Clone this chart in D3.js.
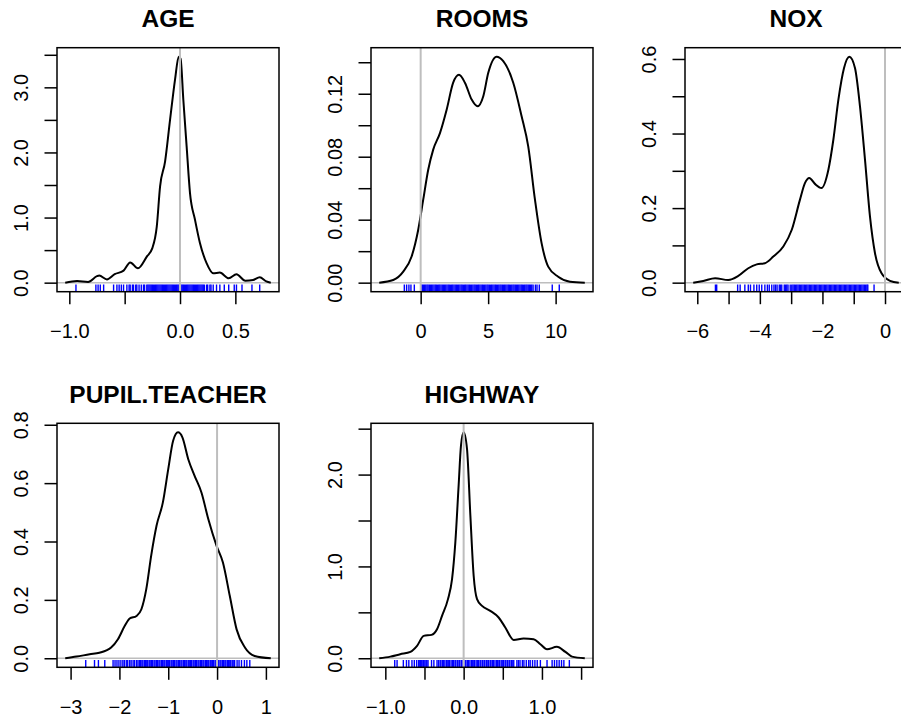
<!DOCTYPE html>
<html>
<head>
<meta charset="utf-8">
<script src="https://cdn.jsdelivr.net/npm/d3@7"></script>
<style>
body { margin: 0; background: white; }
text { font-family: "Liberation Sans", Arial, sans-serif; }
</style>
</head>
<body>
<div class="dens-figure"></div>
<script>
// density curves (x, y)
let ageX = [-1.037, -0.93, -0.83, -0.75, -0.73, -0.66, -0.59, -0.51, -0.45, -0.38, -0.30, -0.25, -0.21, -0.18, -0.135, -0.09, -0.045, -0.012, 0.005, 0.03, 0.06, 0.09, 0.135, 0.18, 0.24, 0.30, 0.36, 0.44, 0.51, 0.59, 0.66, 0.72, 0.78, 0.82];
let ageY = [0, 0.026, 0.012, 0.10, 0.11, 0.05, 0.13, 0.185, 0.31, 0.22, 0.40, 0.53, 0.86, 1.48, 1.86, 2.5, 3.12, 3.47, 3.44, 2.81, 2.09, 1.38, 0.97, 0.61, 0.30, 0.145, 0.155, 0.068, 0.13, 0.03, 0.04, 0.083, 0.02, 0];

let roomsX = [-3.07, -2.03, -1.29, -0.67, -0.18, 0.19, 0.56, 0.93, 1.43, 1.93, 2.41, 2.84, 3.28, 3.78, 4.22, 4.64, 5.01, 5.63, 6.12, 6.86, 7.48, 7.97, 8.47, 8.96, 9.45, 10.19, 11.06, 12.16];
let roomsY = [0, 0.0017, 0.007, 0.0166, 0.0336, 0.0527, 0.0717, 0.0845, 0.095, 0.11, 0.127, 0.132, 0.127, 0.1163, 0.112, 0.1184, 0.1333, 0.1435, 0.1407, 0.127, 0.1057, 0.0866, 0.0527, 0.0251, 0.0102, 0.0038, 0.0006, 0];

let noxX = [-6.13, -5.81, -5.43, -5.01, -4.69, -4.37, -4.10, -3.84, -3.57, -3.25, -2.98, -2.72, -2.56, -2.42, -2.24, -2.03, -1.81, -1.65, -1.49, -1.31, -1.14, -0.96, -0.80, -0.64, -0.48, -0.32, -0.11, 0.16, 0.44];
let noxY = [0, 0.0046, 0.012, 0.007, 0.018, 0.0387, 0.049, 0.052, 0.07, 0.097, 0.142, 0.222, 0.267, 0.281, 0.265, 0.254, 0.303, 0.384, 0.491, 0.576, 0.606, 0.576, 0.473, 0.33, 0.177, 0.079, 0.025, 0.005, 0];

let pupilX = [-3.11, -2.88, -2.61, -2.41, -2.17, -2.03, -1.89, -1.79, -1.65, -1.55, -1.45, -1.35, -1.24, -1.11, -1.00, -0.90, -0.80, -0.71, -0.59, -0.46, -0.32, -0.18, -0.01, 0.12, 0.26, 0.40, 0.57, 0.77, 1.10];
let pupilY = [0, 0.0057, 0.0137, 0.019, 0.0366, 0.065, 0.111, 0.136, 0.145, 0.168, 0.237, 0.351, 0.454, 0.534, 0.648, 0.745, 0.774, 0.757, 0.682, 0.625, 0.568, 0.477, 0.385, 0.328, 0.214, 0.099, 0.037, 0.008, 0];

let highwayX = [-1.078, -0.936, -0.81, -0.68, -0.595, -0.51, -0.41, -0.34, -0.276, -0.2, -0.148, -0.106, -0.064, -0.034, 0.0, 0.043, 0.086, 0.128, 0.171, 0.235, 0.34, 0.447, 0.532, 0.639, 0.766, 0.894, 0.98, 1.065, 1.19, 1.30, 1.384, 1.547];
let highwayY = [0, 0.018, 0.044, 0.069, 0.135, 0.244, 0.255, 0.316, 0.462, 0.644, 0.862, 1.262, 1.88, 2.316, 2.46, 2.28, 1.553, 0.898, 0.644, 0.571, 0.516, 0.444, 0.335, 0.2, 0.215, 0.207, 0.153, 0.098, 0.124, 0.069, 0.018, 0];

// rug values (observations)
let ageRug = [-0.94, -0.76, -0.74, -0.72, -0.69, -0.60, -0.57, -0.55, -0.53, -0.51, -0.48, -0.46, -0.45, -0.43, -0.42, -0.40, -0.39, -0.37, -0.35,
  -0.33, -0.32, -0.30, -0.29, -0.28, -0.27, -0.26, -0.25, -0.24, -0.23, -0.22, -0.21, -0.20, -0.19, -0.18, -0.17, -0.16, -0.15, -0.14, -0.13, -0.12, -0.11, -0.10, -0.09, -0.08, -0.07, -0.06, -0.05, -0.04, -0.03, -0.02, -0.01,
  0.00, 0.01, 0.02, 0.03, 0.04, 0.05, 0.06, 0.07, 0.08, 0.09, 0.10, 0.11, 0.12, 0.13, 0.14, 0.15, 0.16, 0.17, 0.18, 0.19, 0.20, 0.21, 0.22, 0.24, 0.25, 0.27, 0.28,
  0.30, 0.33, 0.36, 0.40, 0.44, 0.49, 0.51, 0.56, 0.65, 0.72];

let roomsRug = [-1.21, -1.04, -0.87, -0.72, -0.47,
  0.03, 0.12, 0.21, 0.29, 0.38, 0.47, 0.55, 0.64, 0.73, 0.81, 0.90, 0.99, 1.08, 1.16, 1.25, 1.34, 1.42, 1.51, 1.60, 1.69, 1.77, 1.86, 1.95, 2.04, 2.12, 2.21, 2.30, 2.38, 2.47, 2.56, 2.65, 2.73, 2.82, 2.91,
  3.00, 3.08, 3.17, 3.26, 3.34, 3.43, 3.52, 3.61, 3.69, 3.78, 3.87, 3.96, 4.04, 4.13, 4.22, 4.30, 4.39, 4.48, 4.57, 4.65, 4.74, 4.83, 4.92, 5.00, 5.09, 5.18, 5.26, 5.35, 5.44, 5.53, 5.61, 5.70, 5.79,
  5.88, 5.96, 6.05, 6.14, 6.22, 6.31, 6.40, 6.49, 6.57, 6.66, 6.75, 6.84, 6.92, 7.01, 7.10, 7.18, 7.27, 7.36, 7.45, 7.53, 7.62, 7.71, 7.80, 7.88, 7.97, 8.06, 8.14, 8.23, 8.33, 8.50, 8.62, 8.79,
  9.75, 10.27];

let noxRug = [-5.42, -5.38, -4.71, -4.63, -4.48, -4.37, -4.30, -4.19, -4.10, -4.02, -3.94, -3.84, -3.76, -3.70, -3.62, -3.55,
  -3.50, -3.45, -3.38, -3.34, -3.30, -3.22, -3.18, -3.14, -3.10, -3.03, -2.98, -2.94, -2.90, -2.86, -2.82, -2.78, -2.74, -2.70, -2.66, -2.62, -2.58, -2.54, -2.50, -2.46, -2.42, -2.38, -2.34, -2.30, -2.26, -2.22, -2.18, -2.14, -2.10,
  -2.06, -2.02, -1.98, -1.94, -1.90, -1.86, -1.82, -1.78, -1.74, -1.70, -1.66, -1.62, -1.58, -1.54, -1.50, -1.46, -1.42, -1.38, -1.34, -1.30, -1.26, -1.22, -1.18, -1.14, -1.10, -1.06, -1.02,
  -0.98, -0.94, -0.90, -0.86, -0.82, -0.78, -0.74, -0.70, -0.66, -0.62, -0.58, -0.55, -0.35];

let pupilRug = [-2.69, -2.51, -2.43, -2.30, -2.13, -2.09, -2.05, -2.01, -1.97, -1.93, -1.90, -1.86, -1.83, -1.79, -1.76, -1.72, -1.69, -1.65, -1.62,
  -1.59, -1.57, -1.54, -1.52, -1.49, -1.47, -1.44, -1.42, -1.39, -1.37, -1.34, -1.32, -1.29, -1.27, -1.24, -1.22, -1.19, -1.17, -1.14, -1.12, -1.09, -1.07, -1.04, -1.02, -0.99, -0.97, -0.94, -0.92, -0.89, -0.87,
  -0.84, -0.82, -0.79, -0.77, -0.74, -0.72, -0.69, -0.67, -0.64, -0.62, -0.59, -0.57, -0.54, -0.52, -0.49, -0.47, -0.44, -0.42, -0.39, -0.37, -0.34, -0.32, -0.29, -0.27, -0.24, -0.22, -0.19, -0.17, -0.14, -0.12,
  -0.09, -0.07, -0.04, -0.02, 0.01, 0.03, 0.06, 0.08, 0.11, 0.13, 0.16, 0.18, 0.21, 0.23, 0.26, 0.28, 0.31, 0.33, 0.36, 0.41, 0.45, 0.50, 0.56, 0.61, 0.67];

let highwayRug = [-0.88, -0.85, -0.77, -0.73, -0.70, -0.66, -0.63, -0.60, -0.575, -0.56, -0.55, -0.535, -0.52, -0.51, -0.495, -0.48, -0.47, -0.455, -0.41, -0.38, -0.34,
  -0.32, -0.30, -0.29, -0.27, -0.26, -0.24, -0.22, -0.21, -0.19, -0.18, -0.16, -0.14, -0.13, -0.11, -0.10, -0.08, -0.06, -0.05, -0.03, -0.02, 0.00, 0.02, 0.03, 0.05, 0.06, 0.08, 0.10, 0.11, 0.13, 0.14,
  0.16, 0.18, 0.19, 0.21, 0.22, 0.24, 0.26, 0.27, 0.29, 0.30, 0.32, 0.34, 0.35, 0.37, 0.38, 0.40, 0.42, 0.43, 0.45, 0.46, 0.48, 0.50, 0.51, 0.53, 0.54, 0.56, 0.58, 0.59, 0.61, 0.62, 0.64,
  0.68, 0.70, 0.72, 0.75, 0.77, 0.80, 0.83, 0.85, 0.88, 0.91, 0.94, 0.98, 1.065, 1.13, 1.16, 1.19, 1.22, 1.25, 1.28, 1.35];

let titles = ["AGE", "ROOMS", "NOX", "PUPIL.TEACHER", "HIGHWAY"];

// tick values and their labels ("" = tick drawn, label dropped)
let xTicks = [[-1.0, -0.5, 0.0, 0.5], [0, 5, 10], [-6, -5, -4, -3, -2, -1, 0], [-3, -2, -1, 0, 1], [-1.0, -0.5, 0.0, 0.5, 1.0, 1.5]];
let xLabels = [["\u22121.0", "", "0.0", "0.5"], ["0", "5", "10"], ["\u22126", "", "\u22124", "", "\u22122", "", "0"], ["\u22123", "\u22122", "\u22121", "0", "1"], ["\u22121.0", "", "0.0", "", "1.0", ""]];
let yTicks = [[0, 0.5, 1, 1.5, 2, 2.5, 3, 3.5], [0, 0.02, 0.04, 0.06, 0.08, 0.10, 0.12, 0.14], [0, 0.1, 0.2, 0.3, 0.4, 0.5, 0.6], [0, 0.2, 0.4, 0.6, 0.8], [0, 0.5, 1, 1.5, 2, 2.5]];
let yLabels = [["0.0", "", "1.0", "", "2.0", "", "3.0", ""], ["0.00", "", "0.04", "", "0.08", "", "0.12", ""], ["0.0", "", "0.2", "", "0.4", "", "0.6"], ["0.0", "0.2", "0.4", "0.6", "0.8"], ["0.0", "", "1.0", "", "2.0", ""]];

let curvesX = [ageX, roomsX, noxX, pupilX, highwayX];
let curvesY = [ageY, roomsY, noxY, pupilY, highwayY];
let rugs = [ageRug, roomsRug, noxRug, pupilRug, highwayRug];

let colLeft = [57, 371, 685];
let rowTop = [47.7, 423.3];
let boxW = 222, boxH = 244;

let svg = d3.select(".dens-figure")
  .append("svg")
  .attr("width", 901)
  .attr("height", 717)
  .style("display", "block")
  .style("background", "white");

for (let i = 0; i < titles.length; i++) {
  let col = i % 3, row = Math.floor(i / 3);
  let g = svg.append("g")
    .attr("transform", "translate(" + colLeft[col] + "," + rowTop[row] + ")");

  let pts = curvesX[i].map((d, j) => ({x: d, y: curvesY[i][j]}));

  // R style limits: range extended by 4% on each side
  let ext = d3.extent(curvesX[i]);
  let pad = (ext[1] - ext[0]) * 0.04;
  let x = d3.scaleLinear().domain([ext[0] - pad, ext[1] + pad]).range([0, boxW]);
  let yMax = d3.max(curvesY[i]);
  let y = d3.scaleLinear().domain([-0.04 * yMax, 1.04 * yMax]).range([boxH, 0]);

  let clipId = "clip" + i;
  g.append("clipPath").attr("id", clipId)
    .append("rect").attr("width", boxW).attr("height", boxH);

  let inner = g.append("g").attr("clip-path", "url(#" + clipId + ")");

  // zero line
  inner.append("line")
    .attr("x1", 0).attr("x2", boxW)
    .attr("y1", y(0)).attr("y2", y(0))
    .attr("stroke", "#bebebe")
    .attr("stroke-width", 1.5);

  inner.append("path")
    .datum(pts)
    .attr("fill", "none")
    .attr("stroke", "black")
    .attr("stroke-width", 2)
    .attr("stroke-linejoin", "round")
    .attr("d", d3.line().x(d => x(d.x)).y(d => y(d.y)).curve(d3.curveMonotoneX));

  // rug
  inner.selectAll(".rug")
    .data(rugs[i])
    .enter()
    .append("line")
    .attr("class", "rug")
    .attr("x1", d => x(d)).attr("x2", d => x(d))
    .attr("y1", boxH).attr("y2", boxH - 0.03 * boxH)
    .attr("stroke", "#0000ff")
    .attr("stroke-width", 1.4);

  // vertical line at 0
  inner.append("line")
    .attr("x1", x(0)).attr("x2", x(0))
    .attr("y1", 0).attr("y2", boxH)
    .attr("stroke", "#bebebe")
    .attr("stroke-width", 2);

  g.append("rect")
    .attr("width", boxW).attr("height", boxH)
    .attr("fill", "none")
    .attr("stroke", "black")
    .attr("stroke-width", 1.5);

  let xAxis = g.append("g")
    .attr("transform", "translate(0," + boxH + ")")
    .call(d3.axisBottom(x).tickValues(xTicks[i]).tickFormat((d, j) => xLabels[i][j]).tickSize(12.5));
  xAxis.select(".domain").remove();
  xAxis.attr("font-size", 20).attr("font-family", "Liberation Sans, Arial, sans-serif");
  xAxis.selectAll("line").attr("stroke-width", 1.5);
  xAxis.selectAll("text").attr("y", 46.5).attr("dy", null);

  let yAxis = g.append("g")
    .call(d3.axisLeft(y).tickValues(yTicks[i]).tickFormat((d, j) => yLabels[i][j]).tickSize(12.5));
  yAxis.select(".domain").remove();
  yAxis.attr("font-size", 20).attr("font-family", "Liberation Sans, Arial, sans-serif");
  yAxis.selectAll("line").attr("stroke-width", 1.5);
  yAxis.selectAll("text")
    .attr("x", null).attr("dy", null)
    .attr("text-anchor", "middle")
    .attr("transform", "translate(-29,0) rotate(-90)");

  g.append("text")
    .attr("x", boxW / 2)
    .attr("y", -20.3)
    .attr("text-anchor", "middle")
    .attr("font-size", 24.5)
    .attr("font-weight", "bold")
    .text(titles[i]);
}
</script>
</body>
</html>
